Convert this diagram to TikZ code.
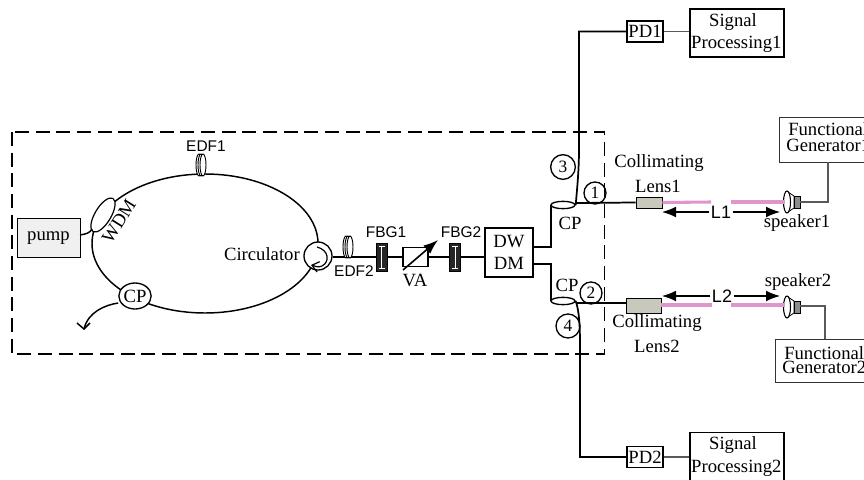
\documentclass[tikz,border=0pt]{standalone}
\usepackage{fontspec}
\setmainfont{Liberation Serif}
\newfontfamily\sansf{Liberation Sans}
\usetikzlibrary{arrows.meta,calc,shapes.geometric}
\tikzset{
 x=0.75pt,y=-0.75pt,
 fiber/.style={line width=1.3pt,black},
 thin wire/.style={line width=0.8pt,black!65},
 tx/.style={font=\fontsize{14}{17}\selectfont},
 box/.style={draw,line width=1pt,fill=white,inner sep=0pt,align=center,tx},
 serif/.style={tx,inner sep=0pt,align=center},
 sans/.style={font=\sansf\fontsize{11.6}{12}\selectfont,inner sep=0pt},
 numc/.style={circle,draw,line width=1pt,inner sep=0pt,fill=none,font=\fontsize{13}{14}\selectfont},
 beam/.style={line width=2.3pt,color={rgb,255:red,224;green,150;blue,205}},
 dim/.style={line width=0.8pt,-{Latex[length=10.5pt,width=8pt]}},
 grating/.style={draw=black,line width=0.4pt,fill=black!85,minimum width=8.25pt,minimum height=21pt,inner sep=0pt},
 coil/.style={line width=0.7pt,fill=white},
 Llabel/.style={font=\sansf\fontsize{13.5}{14}\selectfont,inner sep=0pt,fill=white,inner xsep=1pt},
 gen/.style={draw,line width=0.7pt,black!80,inner sep=0pt},
}
\begin{document}
\begin{tikzpicture}
\useasboundingbox (0,0) rectangle (864,479);
\clip (0,0) rectangle (864,479);
% dashed frame
\draw[line width=1pt,dash pattern=on 10.5pt off 5pt] (12,132) rectangle (604.5,354);
% ring
\draw[fiber,line width=1.1pt] (205,243.5) ellipse [x radius=113,y radius=69.5];
% pump + WDM
\node[box,line width=0.7pt,fill=black!6,minimum width=47.25pt,minimum height=29.5pt] (pump) at (48.5,238) {pump};
\node[draw,fill=white,line width=0.9pt,ellipse,minimum width=12pt,minimum height=29pt,rotate=-31,inner sep=0pt] (wdm) at (103,215) {};
\coordinate (pumpout) at (80,235);
\coordinate (wdmin) at (92,229);
\draw[line width=1.1pt] (pumpout) .. controls (86,234) and (90,233) .. (wdmin);
\node[serif,rotate=58] (wdml) at (119,221) {WDM};
% EDF1
\foreach \i in {-2,0,2}{\draw[coil] (201+\i,165) ellipse [x radius=3,y radius=11];}
\node[sans] (edf1) at (206,146) {EDF1};
% CP in ring
\node[draw,fill=white,line width=1pt,ellipse,minimum width=24pt,minimum height=19.5pt,inner sep=0pt,tx] (cpr) at (135,296) {CP};
\coordinate (arrowend) at (84,329);
\draw[line width=1.1pt] (cpr.west) ++(0,7) .. controls (105,305) and (88,312) .. (arrowend);
\coordinate (barba) at (77,323);
\coordinate (barbb) at (90,323);
\draw[line width=1.1pt] (barba) -- (arrowend) -- (barbb);
% circulator
\node[draw,fill=white,line width=1pt,circle,minimum size=21pt,inner sep=0pt] (circ) at (318,256) {};
\coordinate (ca) at (317,247);
\coordinate (cb) at (311,265);
\draw[line width=0.9pt,-{Straight Barb[length=5pt,width=8pt]}] (ca) .. controls (329,250) and (330,262) .. (322,266) .. controls (318,268) and (315,266) .. (cb);
\node[serif,anchor=east] (circl) at (300,254) {Circulator};
% main line
\node[box,minimum width=36pt,minimum height=36.75pt] (dwdm) at (509,252.5) {DW\\DM};
\draw[fiber] (circ.east) ++(0,1) -- (dwdm.west |- 0,257);
% EDF2
\foreach \i in {-2,0,2}{\draw[coil] (348+\i,247) ellipse [x radius=3,y radius=11];}
\node[sans] (edf2) at (354,271) {EDF2};
% FBG
\node[grating] (fbg1) at (381.5,257) {};
\node[grating] (fbg2) at (455,257) {};
\foreach \n in {fbg1,fbg2}{
 \draw[white,line width=0.6pt] ($(\n.center)+(0,-11)$) -- ($(\n.center)+(0,11)$);
 \draw[white,line width=0.6pt] ($(\n.center)+(-3,-11)$) -- ($(\n.center)+(3,-11)$);
 \draw[white,line width=0.6pt] ($(\n.center)+(-3,11)$) -- ($(\n.center)+(3,11)$);
}
\node[sans] (fbg1l) at (386,232) {FBG1};
\node[sans] (fbg2l) at (461,232) {FBG2};
% VA
\node[box,line width=0.9pt,minimum width=18.75pt,minimum height=14.25pt] (va) at (415.5,257) {};
\coordinate (vaa) at (403,270);
\coordinate (vab) at (438,240);
\draw[line width=1.2pt,-{Latex[length=11pt,width=8pt]}] (vaa) -- (vab);
\node[serif] (val) at (415,280) {VA};
% couplers
\coordinate (cp1in) at (551,205);
\coordinate (cp2in) at (551,301);
\coordinate (dwa) at (533,247);
\coordinate (dwb) at (533,264);
\draw[fiber] (dwa) -- (dwa -| cp1in) -- (cp1in);
\draw[fiber] (dwb) -- (dwb -| cp2in) -- (cp2in);
% upper output
\node[box,minimum width=27pt,minimum height=15.75pt] (pd1) at (645,31.5) {PD1};
\node[box,minimum width=70.5pt,minimum height=36pt,text width=70.5pt] (sp1) at (737,33) {\hspace*{-6pt}Signal\\\hspace*{-1pt}Processing1};
\node[box,minimum width=27pt,minimum height=15.75pt] (pd2) at (645,457) {PD2};
\node[box,minimum width=70.5pt,minimum height=36pt,text width=70.5pt] (sp2) at (737,456.5) {\hspace*{-6pt}Signal\\\hspace*{-1pt}Processing2};
\coordinate (up1) at (579,150);
\coordinate (dn1) at (580,345);
\node[draw,line width=1pt,ellipse,minimum width=18pt,minimum height=5.5pt,inner sep=0pt,fill=white] (cp1) at (563,205) {};
\node[draw,line width=1pt,ellipse,minimum width=18pt,minimum height=5.5pt,inner sep=0pt,fill=white] (cp2) at (563,301) {};
\draw[fiber] (cp1.east) .. controls (577,190) and (579,170) .. (up1) -- (up1 |- pd1.west) -- (pd1.west);
\draw[fiber] (cp2.east) .. controls (579,310) and (580,325) .. (dn1) -- (dn1 |- pd2.west) -- (pd2.west);
\draw[thin wire] (pd1.east) -- (sp1.west |- pd1.east);
\draw[thin wire] (pd2.east) -- (sp2.west |- pd2.east);
\node[serif] (cp1l) at (570,223) {CP};
\node[serif] (cp2l) at (567,285) {CP};
% numbers
\node[numc,minimum size=18.5pt] (n3) at (563,167) {3};
\node[numc,minimum size=16.5pt] (n1) at (595,193) {1};
\node[numc,minimum size=16.5pt] (n2) at (591,293) {2};
\node[numc,minimum size=18pt] (n4) at (568,326) {4};
% lenses
\node[draw=black,line width=0.7pt,fill={rgb,255:red,200;green,200;blue,188},minimum width=19.5pt,minimum height=8.25pt,inner sep=0pt] (l1) at (649,202.5) {};
\node[draw=black,line width=0.7pt,fill={rgb,255:red,200;green,200;blue,188},minimum width=26.25pt,minimum height=11.25pt,inner sep=0pt] (l2) at (643.5,305.5) {};
\draw[fiber] (cp1.east) ++(0,-2) -- (l1.west);
\draw[fiber] (cp2.east) ++(0,2) -- (l2.west |- 0,303);
\node[serif] (colla) at (659,163) {Collimating};
\node[serif] (lens1) at (658,186) {Lens1};
\node[serif] (collb) at (657,323) {Collimating};
\node[serif] (lens2) at (657,346) {Lens2};
% speakers
\coordinate (s1) at (787,202);
\coordinate (s2) at (787,307);
\foreach \c in {s1,s2}{
 \draw[line width=0.6pt,fill=white] ($(\c)+(1,-10)$) -- ($(\c)+(7,-6)$) -- ($(\c)+(7,6)$) -- ($(\c)+(1,10)$) -- cycle;
 \draw[line width=0.5pt,fill=black!45] ($(\c)+(7,-6)$) rectangle ($(\c)+(13,6)$);
 \draw[line width=0.8pt,fill=white] (\c) ellipse [x radius=3.5,y radius=11];
}
% beams
\draw[beam] (l1.east) -- (711,202);
\draw[beam] (731,202) -- (785,202);
\draw[beam] (l2.east |- 0,305) -- (712,305);
\draw[beam] (731,305) -- (785,305);
% L labels
\node[Llabel] (L1) at (721,212) {L1};
\node[Llabel] (L2) at (722,296) {L2};
\coordinate (L1a) at (662,212);
\coordinate (L1b) at (780,212);
\coordinate (L2a) at (662,296);
\coordinate (L2b) at (780,296);
\draw[dim] (L1.west) -- (L1a);
\draw[dim] (L1.east) -- (L1b);
\draw[dim] (L2.west) -- (L2a);
\draw[dim] (L2.east) -- (L2b);
\node[serif] (sp1l) at (797,223) {speaker1};
\node[serif] (sp2l) at (798,282) {speaker2};
% functional generators
\draw[gen] (779,117) rectangle (880,162);
\coordinate (fg1b) at (828,162);
\draw[gen] (775,339) rectangle (880,382);
\coordinate (fg2t) at (825,339);
\node[serif,anchor=west] (fg1a) at (788,129) {Functional};
\node[serif,anchor=west] (fg1c) at (786,145) {Generator1};
\node[serif,anchor=west] (fg2a) at (784,353) {Functional};
\node[serif,anchor=west] (fg2c) at (782,367) {Generator2};
\coordinate (sw1) at (800,202);
\coordinate (sw2) at (800,306);
\draw[thin wire] (sw1) -- (sw1 -| fg1b) -- (fg1b);
\draw[thin wire] (sw2) -- (sw2 -| fg2t) -- (fg2t);
\end{tikzpicture}
\end{document}
